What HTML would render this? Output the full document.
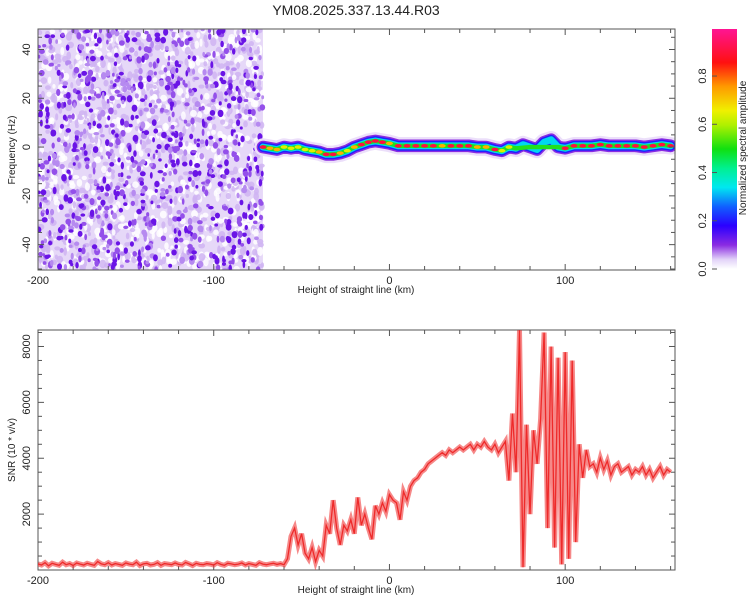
<!DOCTYPE html>
<html><head><meta charset="utf-8"><style>
body{margin:0;background:#fff;}
svg text{font-family:"Liberation Sans",sans-serif;fill:#222;}
</style></head><body>
<svg id="chart" width="750" height="600" xmlns="http://www.w3.org/2000/svg">
<defs>
<linearGradient id="cb" x1="0" y1="1" x2="0" y2="0">
<stop offset="0" stop-color="#ffffff"/><stop offset="0.04" stop-color="#e2d2f8"/><stop offset="0.1" stop-color="#8a2be2"/><stop offset="0.18" stop-color="#2b00ff"/><stop offset="0.26" stop-color="#1060ff"/><stop offset="0.34" stop-color="#00e8f0"/><stop offset="0.42" stop-color="#00f090"/><stop offset="0.5" stop-color="#10e010"/><stop offset="0.6" stop-color="#b0f000"/><stop offset="0.66" stop-color="#f0f000"/><stop offset="0.76" stop-color="#ff9a00"/><stop offset="0.86" stop-color="#ff1010"/><stop offset="1" stop-color="#ff1493"/>
</linearGradient>
<clipPath id="clipTop"><rect x="38" y="29" width="637" height="241"/></clipPath>
<clipPath id="clipBot"><rect x="38" y="330" width="637" height="240"/></clipPath>
</defs>
<text x="356" y="15" font-size="14" text-anchor="middle">YM08.2025.337.13.44.R03</text>
<g id="topPanel"></g>
<g id="botPanel"></g>
<g id="cbarPanel"></g>
</svg>
<script>
// ---- data ----
const xTicks = [-200, -100, 0, 100];
const fTicks = [-40, -20, 0, 20, 40];
const snrTicks = [2000, 4000, 6000, 8000];
const cbTicks = [0.0, 0.2, 0.4, 0.6, 0.8];
// spectral ridge: height (km), centre frequency (Hz), peak amplitude
const ridgeKm = [-72,-68,-64,-60,-56,-52,-48,-44,-40,-36,-32,-28,-24,-20,-16,-12,-8,-4,0,5,10,15,20,25,30,35,40,45,50,55,60,64,68,72,76,80,84,88,92,96,100,105,110,115,120,125,130,135,140,145,150,155,160];
const ridgeHz = [0,-0.5,-1,0,-0.5,0,-1,-1.5,-2,-3,-3,-2.5,-1.5,0,1,2,2.5,2,1.5,0.5,0.5,0.5,0.5,0.5,0.5,0.5,0.5,0.5,0,0,-1,-1.5,0,-0.5,1,0,-1,2,3,0,-0.5,0.5,0.5,0.5,1,0.5,0.5,0.5,0.5,0,0.5,1,0.5];
const ridgeAmp = [0.9,0.8,0.8,0.7,0.6,0.7,0.7,0.65,0.8,0.85,0.9,0.75,0.7,0.75,0.9,0.85,0.9,0.85,0.8,0.9,0.9,0.85,0.9,0.85,0.8,0.9,0.85,0.9,0.8,0.75,0.85,0.7,0.6,0.55,0.45,0.5,0.45,0.4,0.45,0.5,0.9,0.9,0.9,0.85,0.85,0.9,0.9,0.9,0.85,0.9,0.9,0.9,0.95];
// SNR, every 2 km from -200 to 162
const snrKm0 = -200, snrStep = 2;
const snr = [
220,180,260,150,240,200,170,280,190,230,160,250,210,180,240,200,170,300,220,190,
260,180,230,200,170,250,210,190,280,160,220,240,180,200,260,170,230,210,190,250,
200,180,270,220,160,240,200,190,230,210,180,260,200,170,240,220,190,210,250,180,
230,200,170,260,210,190,220,240,200,230,190,400,1200,1500,900,1300,600,400,800,300,700,500,1600,
1300,2500,1500,900,1600,1400,1800,1300,2600,1600,2000,1500,1100,2300,2000,2400,2100,2700,2500,2400,
1800,2800,2500,3000,3200,3300,3500,3600,3800,3900,4000,4100,4200,4100,4300,4200,4300,4400,4300,4400,
4500,4300,4500,4400,4600,4400,4300,4500,4200,4400,4600,3200,5600,3500,8580,100,5200,2000,5000,3800,
5400,8500,1500,8000,800,7600,200,7800,400,7500,1000,4500,3300,4300,3700,3800,3500,4000,3600,3900,
3400,3700,3800,3500,3600,3700,3400,3600,3500,3700,3400,3600,3300,3500,3700,3400,3600,3500];
// ---- scales ----
const X0=38, X1=675, KM0=-200, KM1=162.5;
const sx = km => X0 + (km-KM0)/(KM1-KM0)*(X1-X0);
const TY0=29, TY1=270, F0=-50.4, F1=48.4;
const sf = f => TY1 - (f-F0)/(F1-F0)*(TY1-TY0);
const BY0=330, BY1=570, S0=0, S1=8590;
const ss = v => BY1 - (v-S0)/(S1-S0)*(BY1-BY0);
const NS="http://www.w3.org/2000/svg";
function mk(tag, attrs, parent){const e=document.createElementNS(NS,tag);for(const k in attrs)e.setAttribute(k,attrs[k]);parent.appendChild(e);return e;}
const topG=document.getElementById('topPanel'), botG=document.getElementById('botPanel'), cbarG=document.getElementById('cbarPanel');

// ---- spectrogram noise texture (left region) ----
const noise = mk('g',{'clip-path':'url(#clipTop)'},topG);


mk('rect',{x:X0,y:TY0,width:sx(-72)-X0,height:TY1-TY0,fill:'#e6d8f8'},noise);
let seed=12345; const rnd=()=>{seed=(seed*1103515245+12345)%2147483648;return seed/2147483648;};
const nx1=sx(-72);
for(let i=0;i<1400;i++){const x=X0+rnd()*(nx1-X0), y=TY0+rnd()*(TY1-TY0);
  mk('ellipse',{cx:x,cy:y,rx:1.5+rnd()*2,ry:2+rnd()*2.5,fill:rnd()<0.45?'#ffffff':'#cfb4f2',opacity:0.85},noise);}
for(let i=0;i<900;i++){const x=X0+rnd()*(nx1-X0), y=TY0+rnd()*(TY1-TY0); const r=rnd();
  mk('ellipse',{cx:x,cy:y,rx:1.3+rnd()*1.7,ry:1.6+rnd()*2.2,fill:r<0.4?'#6a14e6':(r<0.72?'#9450ea':'#b68af0')},noise);}

// ---- ridge ----
const rg = mk('g',{'clip-path':'url(#clipTop)'},topG);


const layers=[[3.6,'#ecdffa',0],[2.6,'#8a2be2',0.1],[2,'#2020ff',0.2],[1.4,'#00d8f0',0.35],[0.9,'#20e020',0.5]];
layers.forEach(([hw,col,th])=>{
  let d='';
  ridgeKm.forEach((k,i)=>{if(ridgeAmp[i]>=th) d+=(d?'L':'M')+sx(k)+','+sf(ridgeHz[i]);});
  mk('path',{d:d,fill:'none',stroke:col,'stroke-width':2*hw*(TY1-TY0)/(F1-F0),'stroke-linejoin':'round','stroke-linecap':'round'},rg);
});
ridgeKm.forEach((k,i)=>{const a=ridgeAmp[i];
  const c = a>=0.85?'#ff1040':(a>=0.75?'#ffb000':(a>=0.6?'#e0f000':null));
  if(c){const e=mk('ellipse',{cx:sx(k),cy:sf(ridgeHz[i]),rx:3.5,ry:1.8,fill:c},rg);
    
    }
});
// frame + ticks
function frame(g,y0,y1){mk('rect',{x:X0,y:y0,width:X1-X0,height:y1-y0,fill:'none',stroke:'#555','stroke-width':1},g);}
frame(topG,TY0,TY1); frame(botG,BY0,BY1);
function xAxis(g,y0,y1){
  for(let k=-200;k<=160;k+=20){const x=sx(k), L=(k%100===0)?6:4;
    mk('line',{x1:x,x2:x,y1:y1,y2:y1-L,stroke:'#555'},g); mk('line',{x1:x,x2:x,y1:y0,y2:y0+L,stroke:'#555'},g);}
  xTicks.forEach(k=>{const t=mk('text',{x:sx(k),y:y1+14,'font-size':11,'text-anchor':'middle'},g);t.textContent=k;
    
    });
  const t=mk('text',{x:356,y:y1+23,'font-size':10,'text-anchor':'middle'},g);t.textContent='Height of straight line (km)';
  
  
}
xAxis(topG,TY0,TY1); xAxis(botG,BY0,BY1);
for(let f=-50;f<=45;f+=5){const y=sf(f),L=(f%20===0)?6:4;
  mk('line',{x1:X0,x2:X0+L,y1:y,y2:y,stroke:'#555'},topG);mk('line',{x1:X1,x2:X1-L,y1:y,y2:y,stroke:'#555'},topG);}
fTicks.forEach(f=>{const t=mk('text',{transform:`translate(30,${sf(f)}) rotate(-90)`,'font-size':11,'text-anchor':'middle'},topG);t.textContent=f;
  
  });
{const t=mk('text',{transform:`translate(15,150) rotate(-90)`,'font-size':10,'text-anchor':'middle'},topG);t.textContent='Frequency (Hz)';
 
 }

// ---- SNR line ----
for(let v=500;v<=8500;v+=500){const y=ss(v),L=(v%2000===0)?6:4;
  mk('line',{x1:X0,x2:X0+L,y1:y,y2:y,stroke:'#555'},botG);mk('line',{x1:X1,x2:X1-L,y1:y,y2:y,stroke:'#555'},botG);}
snrTicks.forEach(v=>{const t=mk('text',{transform:`translate(30,${ss(v)}) rotate(-90)`,'font-size':11,'text-anchor':'middle'},botG);t.textContent=v;
  
  });
{const t=mk('text',{transform:`translate(15,450) rotate(-90)`,'font-size':10,'text-anchor':'middle'},botG);t.textContent='SNR (10 * v/v)';
 
 }
let d='';snr.forEach((v,i)=>{d+=(i?'L':'M')+sx(snrKm0+i*snrStep).toFixed(1)+','+ss(v).toFixed(1);});
const lg=mk('g',{'clip-path':'url(#clipBot)'},botG);
const band=mk('path',{d:d,fill:'none',stroke:'#f03838','stroke-width':5,opacity:0.6,'stroke-linejoin':'miter'},lg);


const ln=mk('path',{d:d,fill:'none',stroke:'#ee2a2a','stroke-width':1.3},lg);



// ---- colorbar ----
const CY0=29,CY1=269, cv=v=>CY1-v/0.995*(CY1-CY0);
mk('rect',{x:712,y:CY0,width:25,height:CY1-CY0,fill:'url(#cb)'},cbarG);
cbTicks.forEach(v=>{mk('line',{x1:712,x2:717,y1:cv(v),y2:cv(v),stroke:'#555'},cbarG);
  const t=mk('text',{transform:`translate(706,${cv(v)}) rotate(-90)`,'font-size':11,'text-anchor':'middle'},cbarG);t.textContent=v.toFixed(1);
  
  });
{const t=mk('text',{transform:`translate(746,148) rotate(-90)`,'font-size':10,'text-anchor':'middle'},cbarG);t.textContent='Normalized spectral amplitude';
 
 }
</script>
</body></html>
